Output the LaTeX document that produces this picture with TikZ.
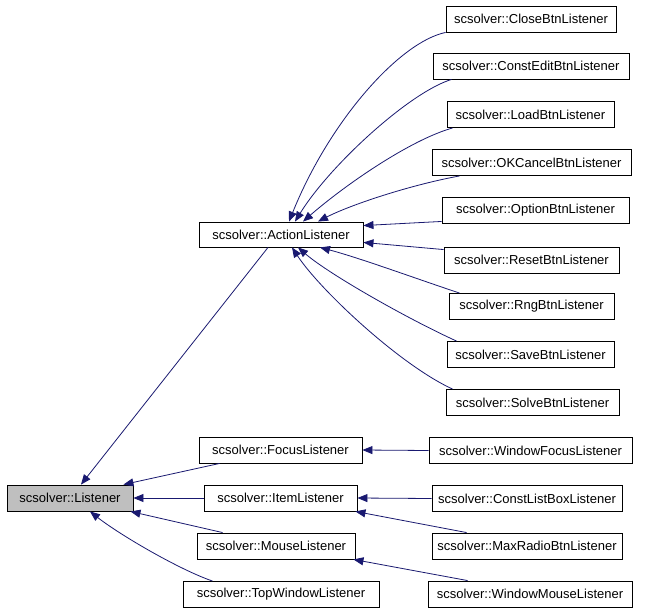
\documentclass[tikz,border=0pt]{standalone}
\usepackage{fontspec}
\setmainfont{Liberation Sans}
\usetikzlibrary{arrows.meta}
\definecolor{edgec}{HTML}{191970}
\definecolor{basefill}{HTML}{BFBFBF}
\begin{document}
\begin{tikzpicture}[x=1pt,y=-1pt,
  cls/.style={draw=black, line width=0.9pt, rectangle, inner sep=0pt,
    minimum height=26pt, font=\fontsize{13}{15}\selectfont, text=black},
  wd/.style={minimum width=#1pt},
  inh/.style={draw=edgec, line width=0.8pt, -{Triangle[length=10pt,width=8pt]}}]
\useasboundingbox (0,0) rectangle (647,610);
\fill[white] (0,0) rectangle (647,610);
% nodes
\node[cls, wd=126, fill=basefill] (listener) at (70,498) {scsolver::Listener};
\node[cls, wd=164, minimum height=25pt] (action) at (281,234.5) {scsolver::ActionListener};
\node[cls, wd=170] (close) at (531,19) {scsolver::CloseBtnListener};
\node[cls, wd=196] (constedit) at (531,66) {scsolver::ConstEditBtnListener};
\node[cls, wd=167] (load) at (530.5,114.5) {scsolver::LoadBtnListener};
\node[cls, wd=199] (okcancel) at (531.5,162.5) {scsolver::OKCancelBtnListener};
\node[cls, wd=187] (option) at (535.5,210) {scsolver::OptionBtnListener};
\node[cls, wd=175] (reset) at (531.5,260) {scsolver::ResetBtnListener};
\node[cls, wd=165] (rng) at (531.5,306.5) {scsolver::RngBtnListener};
\node[cls, wd=167] (save) at (530.5,354.5) {scsolver::SaveBtnListener};
\node[cls, wd=173] (solve) at (532.5,402.5) {scsolver::SolveBtnListener};
\node[cls, wd=163] (focus) at (280.5,450) {scsolver::FocusListener};
\node[cls, wd=153] (item) at (280.5,498) {scsolver::ItemListener};
\node[cls, wd=158] (mouse) at (276,546) {scsolver::MouseListener};
\node[cls, wd=196] (topwin) at (281,594.5) {scsolver::TopWindowListener};
\node[cls, wd=203] (winfocus) at (530.5,450.5) {scsolver::WindowFocusListener};
\node[cls, wd=190] (constlist) at (527,498.5) {scsolver::ConstListBoxListener};
\node[cls, wd=190] (maxradio) at (527,546) {scsolver::MaxRadioBtnListener};
\node[cls, wd=204] (winmouse) at (530,594) {scsolver::WindowMouseListener};
% edges to ActionListener
\draw[inh] (close.south west) .. controls (400,42) and (330,120) .. ([xshift=8pt]action.north);
\draw[inh] ([xshift=19pt]constedit.south west) .. controls (410,92) and (330,165) .. ([xshift=14pt]action.north);
\draw[inh] ([xshift=6pt]load.south west) .. controls (410,140) and (345,185) .. ([xshift=22pt]action.north);
\draw[inh] ([xshift=28pt]okcancel.south west) .. controls (410,185) and (350,205) .. ([xshift=37pt]action.north);
\draw[inh] ([yshift=2pt]option.south west) -- ([yshift=-4pt]action.north east);
\draw[inh] ([yshift=-3pt]reset.north west) -- ([yshift=5pt]action.south east);
\draw[inh] ([xshift=11pt]rng.north west) .. controls (420,280) and (360,258) .. ([xshift=39pt]action.south);
\draw[inh] ([xshift=10pt]save.north west) .. controls (410,320) and (330,275) .. ([xshift=17pt]action.south);
\draw[inh] ([xshift=7pt]solve.north west) .. controls (400,365) and (320,290) .. ([xshift=11pt]action.south);
% edges to Listener
\draw[inh] ([xshift=-13pt]action.south) -- ([xshift=11pt]listener.north);
\draw[inh] ([xshift=21pt]focus.south west) -- ([xshift=-10pt]listener.north east);
\draw[inh] (item.west) -- (listener.east);
\draw[inh] ([xshift=26pt]mouse.north west) -- ([xshift=-3pt]listener.south east);
\draw[inh] ([xshift=30pt]topwin.north west) .. controls (180,570) and (120,535) .. ([xshift=20pt]listener.south);
% second level
\draw[inh] (winfocus.west) -- (focus.east);
\draw[inh] (constlist.west) -- (item.east);
\draw[inh] ([xshift=35pt]maxradio.north west) -- ([xshift=-2pt]item.south east);
\draw[inh] ([xshift=40pt]winmouse.north west) -- ([xshift=-2pt]mouse.south east);
\end{tikzpicture}
\end{document}
